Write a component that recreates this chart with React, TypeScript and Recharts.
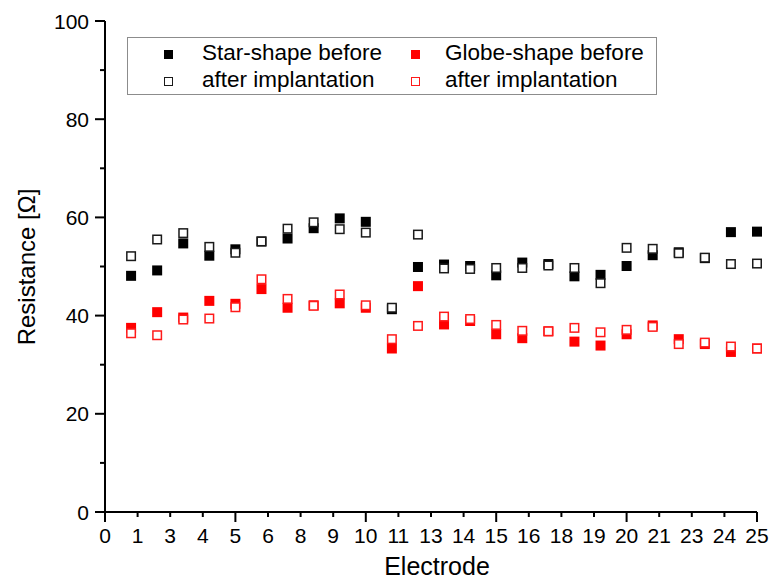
import React from "react";
import {
  ScatterChart,
  Scatter,
  XAxis,
  YAxis,
} from "recharts";

const FONT = "'Liberation Sans', Arial, sans-serif";

// electrode numbers (x) and measured resistances in ohm
const electrodes = [
  1, 2, 3, 4, 5, 6, 7, 8, 9, 10, 11, 12, 13, 14, 15, 16, 17, 18, 19, 20, 21,
  22, 23, 24, 25,
];
const starBefore = [
  48.1, 49.2, 54.7, 52.2, 53.5, 55.1, 55.7, 57.8, 59.8, 59.1, 41.3, 49.9, 50.4,
  50.1, 48.2, 50.8, 50.5, 48.0, 48.3, 50.1, 52.3, 52.9, 51.7, 57.0, 57.1,
];
const starAfter = [
  52.1, 55.5, 56.8, 54.0, 52.8, 55.1, 57.7, 59.0, 57.6, 56.9, 41.6, 56.5, 49.6,
  49.5, 49.7, 49.7, 50.2, 49.7, 46.6, 53.8, 53.6, 52.7, 51.8, 50.5, 50.6,
];
const globeBefore = [
  37.5, 40.7, 39.6, 43.0, 42.4, 45.4, 41.6, 42.1, 42.5, 41.6, 33.3, 46.0, 38.2,
  38.9, 36.2, 35.4, 36.8, 34.7, 33.9, 36.2, 38.0, 35.2, 34.2, 32.6, 33.3,
];
const globeAfter = [
  36.4, 36.0, 39.2, 39.4, 41.7, 47.4, 43.4, 42.0, 44.3, 42.1, 35.2, 37.9, 39.8,
  39.3, 38.1, 36.9, 36.8, 37.5, 36.6, 37.1, 37.7, 34.2, 34.5, 33.7, 33.3,
];

// the x axis is 0..25 with 20 equal steps, labels are rounded
const xTicks = [
  0, 1.25, 2.5, 3.75, 5, 6.25, 7.5, 8.75, 10, 11.25, 12.5, 13.75, 15, 16.25,
  17.5, 18.75, 20, 21.25, 22.5, 23.75, 25,
];
const xTickLabels = [
  "0", "1", "3", "4", "5", "6", "8", "9", "10", "11", "13", "14", "15", "16",
  "18", "19", "20", "21", "23", "24", "25",
];
const yTicks = [0, 10, 20, 30, 40, 50, 60, 70, 80, 90, 100];

const toPoints = (vals: number[]) =>
  electrodes.map((e, i) => ({ x: e, y: vals[i] }));

const series = [
  { name: "Star-shape before", data: toPoints(starBefore), color: "#000000", filled: true },
  { name: "after implantation", data: toPoints(starAfter), color: "#1a1a1a", filled: false },
  { name: "Globe-shape before", data: toPoints(globeBefore), color: "#ff0000", filled: true },
  { name: "after implantation ", data: toPoints(globeAfter), color: "#ff1a1a", filled: false },
];

const squareShape = (color: string, filled: boolean) => (props: any) => {
  const { cx, cy } = props;
  if (cx == null || cy == null) return <g />;
  return filled ? (
    <rect x={cx - 5} y={cy - 5} width={10} height={10} fill={color} />
  ) : (
    <rect
      x={cx - 4.25}
      y={cy - 4.25}
      width={8.5}
      height={8.5}
      fill="#ffffff"
      stroke={color}
      strokeWidth={1.5}
    />
  );
};

const XTick = (props: any) => {
  const { x, y, payload } = props;
  const axisY = y - 12;
  const major = payload.value % 5 === 0;
  const label = xTickLabels[xTicks.indexOf(payload.value)];
  return (
    <g>
      <line x1={x} x2={x} y1={axisY} y2={axisY + (major ? 10 : 5)} stroke="#000" strokeWidth={2} />
      <text x={x} y={axisY + 31} textAnchor="middle" fontSize={21} fontFamily={FONT} fill="#000">
        {label}
      </text>
    </g>
  );
};

const YTick = (props: any) => {
  const { x, y, payload } = props;
  const axisX = x + 16;
  const major = payload.value % 20 === 0;
  return (
    <g>
      <line x1={axisX - (major ? 10 : 5)} x2={axisX} y1={y} y2={y} stroke="#000" strokeWidth={2} />
      {major && (
        <text x={axisX - 16} y={y} dy="0.36em" textAnchor="end" fontSize={21} fontFamily={FONT} fill="#000">
          {payload.value}
        </text>
      )}
    </g>
  );
};

const LegendBox = () => {
  const mark = (color: string, filled: boolean) => (
    <div
      style={{
        position: "absolute",
        boxSizing: "border-box",
        width: 9,
        height: 9,
        background: filled ? color : "#fff",
        border: filled ? "none" : `1.5px solid ${color}`,
      }}
    />
  );
  const cells = [
    { left: 36, top: 12, s: series[0] },
    { left: 36, top: 39, s: series[1] },
    { left: 283, top: 12, s: series[2] },
    { left: 283, top: 39, s: series[3] },
  ];
  return (
    <div
      style={{
        position: "absolute",
        left: 127,
        top: 37,
        width: 528,
        height: 56,
        border: "1px solid #8c8c8c",
        background: "#fff",
        fontFamily: FONT,
        fontSize: 22.5,
        color: "#000",
      }}
    >
      {cells.map((c, i) => (
        <div key={i} style={{ position: "absolute", left: c.left, top: c.top }}>
          {mark(c.s.color, c.s.filled)}
          <span
            style={{
              position: "absolute",
              left: i < 2 ? 38 : 34,
              top: -10,
              whiteSpace: "nowrap",
              lineHeight: "26px",
            }}
          >
            {c.s.name.trim()}
          </span>
        </div>
      ))}
    </div>
  );
};

export default function App() {
  return (
    <div style={{ position: "absolute", left: 0, top: 0, width: 772, height: 584, background: "#fff" }}>
      <ScatterChart
        width={772}
        height={584}
        margin={{ top: 21, right: 15, bottom: 12, left: 0 }}
      >
        <XAxis
          type="number"
          dataKey="x"
          domain={[0, 25]}
          ticks={xTicks}
          interval={0}
          tick={<XTick />}
          tickLine={false}
          tickSize={10}
          tickMargin={2}
          height={60}
          axisLine={{ stroke: "#000", strokeWidth: 2 }}
          label={{
            content: () => (
              <text x={437} y={575} textAnchor="middle" fontSize={25} fontFamily={FONT} fill="#000">
                Electrode
              </text>
            ),
          }}
        />
        <YAxis
          type="number"
          dataKey="y"
          domain={[0, 100]}
          ticks={yTicks}
          interval={0}
          tick={<YTick />}
          tickLine={false}
          tickSize={10}
          tickMargin={6}
          width={105}
          axisLine={{ stroke: "#000", strokeWidth: 2 }}
          label={{
            content: () => (
              <text
                x={35}
                y={267}
                transform="rotate(-90 35 267)"
                textAnchor="middle"
                fontSize={24}
                fontFamily={FONT}
                fill="#000"
              >
                Resistance [Ω]
              </text>
            ),
          }}
        />
        {series.map((s) => (
          <Scatter
            key={s.name}
            name={s.name}
            data={s.data}
            fill={s.color}
            shape={squareShape(s.color, s.filled)}
            isAnimationActive={false}
          />
        ))}
      </ScatterChart>
      <LegendBox />
    </div>
  );
}
